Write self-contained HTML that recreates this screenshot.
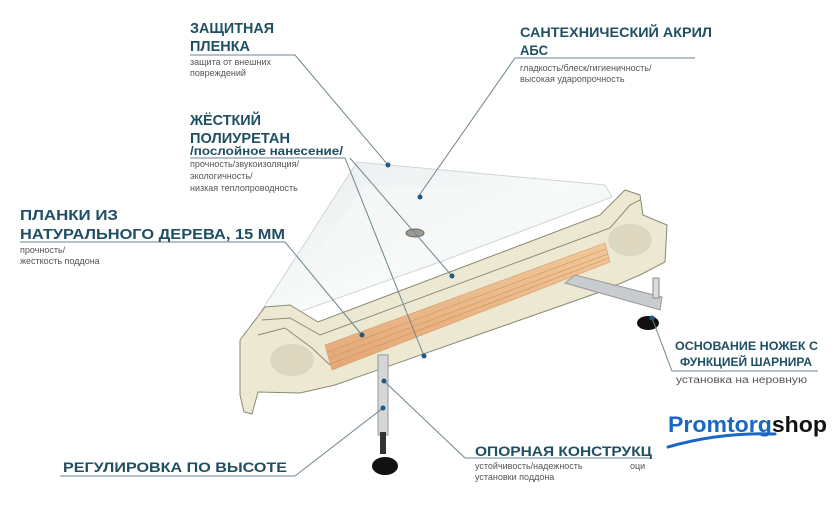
<!DOCTYPE html>
<html><head><meta charset="utf-8"><style>
html,body{margin:0;padding:0;background:#fff;}
svg{display:block;}
.h{font-family:"Liberation Sans",sans-serif;font-weight:bold;fill:#1f4f63;}
.s{font-family:"Liberation Sans",sans-serif;fill:#555;font-size:9px;}
.l{stroke:#6d8590;stroke-width:1;fill:none;}
.d{fill:#1f5a86;}
</style></head><body>
<svg width="840" height="507" viewBox="0 0 840 507" xmlns="http://www.w3.org/2000/svg">
<defs>
<linearGradient id="w" x1="0" y1="0" x2="1" y2="1"><stop offset="0" stop-color="#e9eded"/><stop offset="0.5" stop-color="#f8fafa"/><stop offset="1" stop-color="#eef1f1"/></linearGradient>
<linearGradient id="wood" x1="0" y1="0" x2="0" y2="1"><stop offset="0" stop-color="#f1c89a"/><stop offset="1" stop-color="#e3a876"/></linearGradient>
</defs>
<!-- tray top -->
<polygon points="262,310 357,162 605,185 612,197 440,262 262,325" fill="url(#w)" stroke="#cfd5d5"/>
<polygon points="285,300 365,185 590,195 430,250" fill="#f6f8f8" opacity="0.8"/>
<!-- cream cross-section -->
<polygon points="240,340 265,307 290,305 318,322 600,215 625,190 640,195 643,215 667,225 665,262 640,275 600,292 335,385 300,393 258,392 252,414 244,412 240,395" fill="#ece8d2" stroke="#8a8a78" stroke-width="1"/>
<polyline points="262,320 290,318 320,335 610,228 630,205 640,200" fill="none" stroke="#8a8a78"/>
<polyline points="258,335 285,328 312,348 330,365" fill="none" stroke="#8a8a78"/>
<ellipse cx="292" cy="360" rx="22" ry="16" fill="#ddd7bf"/>
<ellipse cx="630" cy="240" rx="22" ry="16" fill="#ddd7bf"/>
<!-- wood plank -->
<polygon points="325,345 605,243 610,262 332,370" fill="url(#wood)" stroke="#d69a66" stroke-width="0.6"/>
<g stroke="#d0925e" stroke-width="0.6"><line x1="328" y1="352" x2="606" y2="249"/><line x1="329" y1="358" x2="608" y2="254"/><line x1="330" y1="364" x2="609" y2="258"/></g>
<!-- drain -->
<ellipse cx="415" cy="233" rx="9" ry="4" fill="#9a9a90" stroke="#666"/>
<!-- legs -->
<polygon points="565,283 575,275 662,297 660,310" fill="#c9ccce" stroke="#999"/>
<rect x="653" y="278" width="6" height="20" fill="#ddd" stroke="#888"/>
<ellipse cx="648" cy="323" rx="11" ry="7" fill="#111"/>
<rect x="378" y="355" width="10" height="80" fill="#d4d6d8" stroke="#999"/>
<rect x="380" y="432" width="6" height="22" fill="#333"/>
<ellipse cx="385" cy="466" rx="13" ry="9" fill="#111"/>
<!-- leader lines -->
<polyline class="l" points="190,55 295,55 388,165"/>
<polyline class="l" points="695,58 515,58 418,197"/>
<polyline class="l" points="190,158 345,158 424,356"/>
<line class="l" x1="350" y1="158" x2="452" y2="276"/>
<polyline class="l" points="20,242 285,242 362,335"/>
<polyline class="l" points="60,476 295,476 383,408"/>
<polyline class="l" points="650,458 465,458 384,381"/>
<polyline class="l" points="818,371 672,371 652,318"/>
<g class="d"><circle cx="388" cy="165" r="2.5"/><circle cx="420" cy="197" r="2.5"/><circle cx="452" cy="276" r="2.5"/><circle cx="362" cy="335" r="2.5"/><circle cx="424" cy="356" r="2.5"/><circle cx="384" cy="381" r="2.5"/><circle cx="383" cy="408" r="2.5"/><circle cx="652" cy="318" r="2.5"/></g>
<!-- texts -->
<text class="h" x="190" y="33" font-size="15" textLength="84" lengthAdjust="spacingAndGlyphs">ЗАЩИТНАЯ</text>
<text class="h" x="190" y="51" font-size="15" textLength="60" lengthAdjust="spacingAndGlyphs">ПЛЕНКА</text>
<text class="s" x="190" y="65">защита от внешних</text>
<text class="s" x="190" y="76">повреждений</text>
<text class="h" x="190" y="125" font-size="15" textLength="71" lengthAdjust="spacingAndGlyphs">ЖЁСТКИЙ</text>
<text class="h" x="190" y="143" font-size="15" textLength="100" lengthAdjust="spacingAndGlyphs">ПОЛИУРЕТАН</text>
<text class="h" x="190" y="155" font-size="12" textLength="153" lengthAdjust="spacingAndGlyphs">/послойное нанесение/</text>
<text class="s" x="190" y="167">прочность/звукоизоляция/</text>
<text class="s" x="190" y="179">экологичность/</text>
<text class="s" x="190" y="191">низкая теплопроводность</text>
<text class="h" x="20" y="220" font-size="15" textLength="98" lengthAdjust="spacingAndGlyphs">ПЛАНКИ ИЗ</text>
<text class="h" x="20" y="239" font-size="15" textLength="265" lengthAdjust="spacingAndGlyphs">НАТУРАЛЬНОГО ДЕРЕВА, 15 ММ</text>
<text class="s" x="20" y="253">прочность/</text>
<text class="s" x="20" y="264">жесткость поддона</text>
<text class="h" x="520" y="37" font-size="14" textLength="192" lengthAdjust="spacingAndGlyphs">САНТЕХНИЧЕСКИЙ АКРИЛ</text>
<text class="h" x="520" y="55" font-size="14" textLength="28" lengthAdjust="spacingAndGlyphs">АБС</text>
<text class="s" x="520" y="71">гладкость/блеск/гигиеничность/</text>
<text class="s" x="520" y="82">высокая ударопрочность</text>
<text class="h" x="675" y="350" font-size="12" textLength="143" lengthAdjust="spacingAndGlyphs">ОСНОВАНИЕ НОЖЕК С</text>
<text class="h" x="680" y="366" font-size="12" textLength="132" lengthAdjust="spacingAndGlyphs">ФУНКЦИЕЙ ШАРНИРА</text>
<text class="s" x="676" y="383" style="font-size:10px" textLength="131" lengthAdjust="spacingAndGlyphs">установка на неровную</text>
<text x="668" y="432" font-family="Liberation Sans,sans-serif" font-weight="bold" font-size="22" textLength="159" lengthAdjust="spacingAndGlyphs"><tspan fill="#1a67c4">Promtorg</tspan><tspan fill="#111">shop</tspan></text>
<path d="M668,447 Q720,432 775,434" stroke="#1a67c4" stroke-width="3" fill="none" stroke-linecap="round"/>
<text class="h" x="475" y="456" font-size="14" textLength="177" lengthAdjust="spacingAndGlyphs">ОПОРНАЯ КОНСТРУКЦ</text>
<text class="s" x="475" y="469">устойчивость/надежность</text>
<text class="s" x="630" y="469">оци</text>
<text class="s" x="475" y="480">установки поддона</text>
<text class="h" x="63" y="472" font-size="14" textLength="224" lengthAdjust="spacingAndGlyphs">РЕГУЛИРОВКА ПО ВЫСОТЕ</text>
</svg>
</body></html>
